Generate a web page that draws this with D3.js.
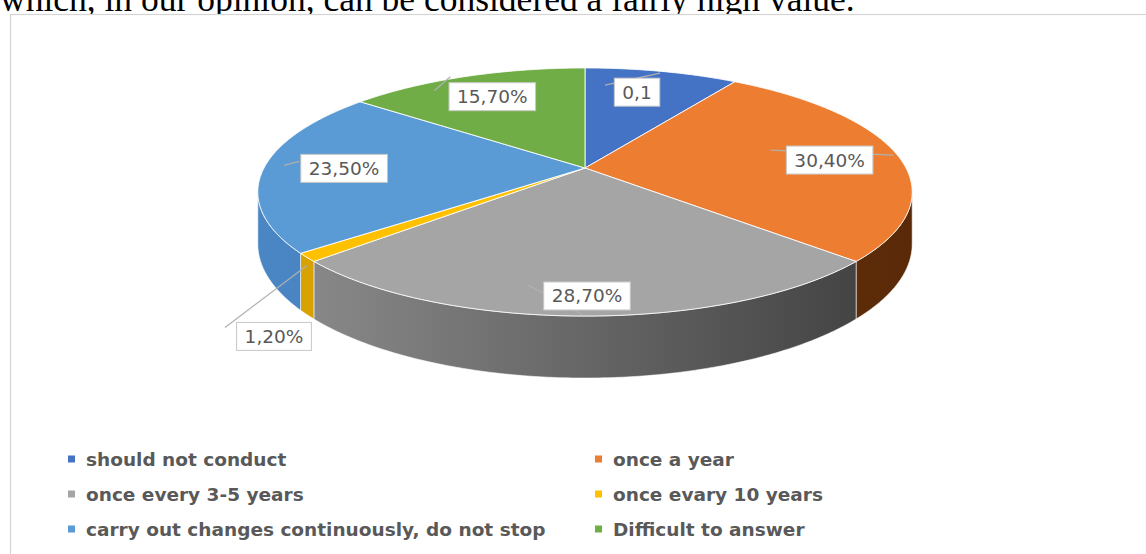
<!DOCTYPE html>
<html>
<head>
<meta charset="utf-8">
<script src="https://cdn.jsdelivr.net/npm/d3@7/dist/d3.min.js"></script>
<style>
  html, body { margin: 0; padding: 0; background: #ffffff; }
  svg { display: block; }
</style>
</head>
<body>
<svg id="chart" width="1146" height="554"></svg>
<script>
// ---------------- DATA ----------------
const categories = [
  "should not conduct",
  "once a year",
  "once every 3-5 years",
  "once evary 10 years",
  "carry out changes continuously, do not stop",
  "Difficult to answer"
];
const values = [0.1, 0.304, 0.287, 0.012, 0.235, 0.157];
const labels = ["0,1", "30,40%", "28,70%", "1,20%", "23,50%", "15,70%"];
const topColors  = ["#4472C4", "#ED7D31", "#A5A5A5", "#FFC000", "#5B9BD5", "#70AD47"];
const sideColors = [["#2f5597", "#2f5597"], ["#7d3d10", "#5a2a08"], ["#8e8e8e", "#3e3e3e"], ["#d9a300", "#c08e00"], ["#4a86c4", "#3a72ad"], ["#4f8a30", "#3f7226"]];
const introText = "which, in our opinion, can be considered a fairly high value.";

// ---------------- LAYOUT ----------------
const svg = d3.select("#chart");
const cx = 585, cy = 168;          // projected pie centre
const A = 321, B = 119.4;          // horizontal / depth radius
const k = 0.1935;                  // perspective factor
const D = 50;                      // thickness
// label layout: radius along the slice middle + offset of box centre, leader line relative to box centre
const labelLayout = [
  {r: 0.60, dx: 3,   dy: -14, lead: [-32, -7, 23, -19]},
  {r: 0.75, dx: 10,  dy: 3,   lead: [-59, -10, 64, -5]},
  {r: 0.95, dx: 2,   dy: -11, lead: [-59, -11, -4, 19]},
  {r: 1.00, dx: -33, dy: 79,  lead: [-49, -9, 33, -71]},
  {r: 0.75, dx: 0,   dy: 0,   lead: [-60, -3, -45, -7]},
  {r: 0.75, dx: 0,   dy: 0,   lead: [-58, -6, -42, -20]}
];

function proj(theta, r, depth) {
  const X = r * Math.sin(theta), Z = -r * Math.cos(theta);
  const s = 1 / (1 - k * Z);
  return [cx + A * X * s, cy + (B * Z + depth) * s];
}

// page text above the chart
svg.append("text")
  .attr("x", 0).attr("y", 11)
  .attr("font-family", "Liberation Serif, Times New Roman, serif")
  .attr("font-size", 35.5)
  .attr("fill", "#000")
  .text(introText);

// chart frame
svg.append("rect")
  .attr("x", 10.5).attr("y", 14.5)
  .attr("width", 1150).attr("height", 560)
  .attr("fill", "#ffffff")
  .attr("stroke", "#d4d4d4").attr("stroke-width", 1.2);

const pie = d3.pie().sort(null).value(d => d).startAngle(0).endAngle(2 * Math.PI);
const arcs = pie(values);

const defs = svg.append("defs");
sideColors.forEach((c, i) => {
  const g = defs.append("linearGradient").attr("id", "side" + i)
    .attr("gradientUnits", "userSpaceOnUse")
    .attr("x1", cx - A).attr("x2", cx + A).attr("y1", 0).attr("y2", 0);
  g.append("stop").attr("offset", "0%").attr("stop-color", c[0]);
  g.append("stop").attr("offset", "100%").attr("stop-color", c[1]);
});

const line = d3.line();
const thL = Math.acos(-k), thR = 2 * Math.PI - Math.acos(-k);

// sides (front rim)
const gSide = svg.append("g");
arcs.forEach((a, i) => {
  const a0 = Math.max(a.startAngle, thL), a1 = Math.min(a.endAngle, thR);
  if (a1 <= a0) return;
  const n = Math.max(4, Math.ceil((a1 - a0) / 0.01));
  const top = d3.range(n + 1).map(j => proj(a0 + (a1 - a0) * j / n, 1, 0));
  const bot = d3.range(n + 1).map(j => proj(a0 + (a1 - a0) * j / n, 1, D)).reverse();
  gSide.append("path")
    .attr("d", line(top.concat(bot)) + "Z")
    .attr("fill", `url(#side${i})`)
    .attr("stroke", "#ffffff").attr("stroke-width", 0.8).attr("stroke-opacity", 0.7);
});

// top faces
const gTop = svg.append("g");
arcs.forEach((a, i) => {
  const n = Math.max(4, Math.ceil((a.endAngle - a.startAngle) / 0.01));
  const pts = [proj(0, 0, 0)].concat(
    d3.range(n + 1).map(j => proj(a.startAngle + (a.endAngle - a.startAngle) * j / n, 1, 0)));
  gTop.append("path")
    .attr("d", line(pts) + "Z")
    .attr("fill", topColors[i])
    .attr("stroke", "#ffffff").attr("stroke-width", 1).attr("stroke-opacity", 0.85)
    .attr("stroke-linejoin", "round");
});

// data labels
const gLab = svg.append("g");
arcs.forEach((a, i) => {
  const L = labelLayout[i];
  const mid = (a.startAngle + a.endAngle) / 2;
  const p = proj(mid, L.r, 0);
  const bx = p[0] + L.dx, by = p[1] + L.dy;
  gLab.append("line")
    .attr("x1", bx + L.lead[0]).attr("y1", by + L.lead[1])
    .attr("x2", bx + L.lead[2]).attr("y2", by + L.lead[3])
    .attr("stroke", "#b0b0b0").attr("stroke-width", 1.2);
  const t = gLab.append("text")
    .attr("x", bx).attr("y", by)
    .attr("text-anchor", "middle").attr("dominant-baseline", "central")
    .attr("font-family", "DejaVu Sans, sans-serif").attr("font-size", 18.5)
    .attr("fill", "#595959")
    .text(labels[i]);
  const w = t.node().getComputedTextLength();
  gLab.insert("rect", () => t.node())
    .attr("x", bx - w / 2 - 8).attr("y", by - 14)
    .attr("width", w + 16).attr("height", 28)
    .attr("fill", "#ffffff").attr("stroke", "#c8c8c8").attr("stroke-width", 1);
});

// legend
const legendPos = [[68, 459], [595, 459], [68, 494], [595, 494], [68, 529], [595, 529]];
const gLeg = svg.append("g");
categories.forEach((c, i) => {
  const [x, y] = legendPos[i];
  gLeg.append("rect").attr("x", x).attr("y", y - 3.5).attr("width", 7).attr("height", 7)
    .attr("fill", topColors[i]);
  gLeg.append("text")
    .attr("x", x + 18).attr("y", y)
    .attr("dominant-baseline", "central")
    .attr("font-family", "DejaVu Sans, sans-serif").attr("font-weight", "bold")
    .attr("font-size", 18.5).attr("fill", "#595959")
    .text(c);
});
</script>
</body>
</html>
